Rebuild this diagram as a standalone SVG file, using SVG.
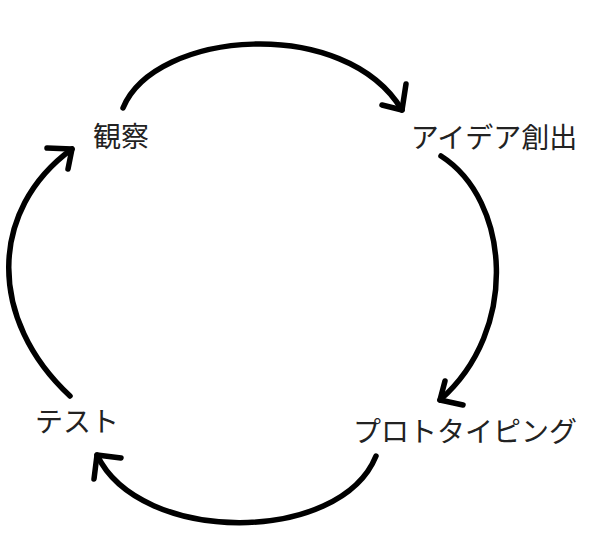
<svg xmlns="http://www.w3.org/2000/svg" width="609" height="551" viewBox="0 0 609 551">
<style>
.lbl{font-family:"Noto Sans CJK JP","Noto Sans",sans-serif;font-size:28px;fill:#222;text-anchor:middle;dominant-baseline:central}
.c{fill:none;stroke:#000;stroke-width:5.5;stroke-linecap:round;stroke-linejoin:round}
</style>
<rect width="609" height="551" fill="#fff"/>
<g id="connectors">
<path class="c" d="M123,108 C155,30 345,15 402,110"/>
<polyline class="c" points="406,84 402,110 382,105"/>
<path class="c" d="M441,156 C510,200 520,330 440,400"/>
<polyline class="c" points="445,381 440,400 463,405"/>
<path class="c" d="M376,456 C340,545 140,545 97,455"/>
<polyline class="c" points="94,479 97,455 121,458"/>
<path class="c" d="M70,396 C-12,320 -12,210 72,149"/>
<polyline class="c" points="47,148 72,149 68,169"/>
</g>
<g id="node-kansatsu"><text class="lbl" x="121" y="135">観察</text></g>
<g id="node-idea"><text class="lbl" x="494" y="136">アイデア創出</text></g>
<g id="node-proto"><text class="lbl" x="465" y="430">プロトタイピング</text></g>
<g id="node-test"><text class="lbl" x="77" y="420">テスト</text></g>
</svg>
